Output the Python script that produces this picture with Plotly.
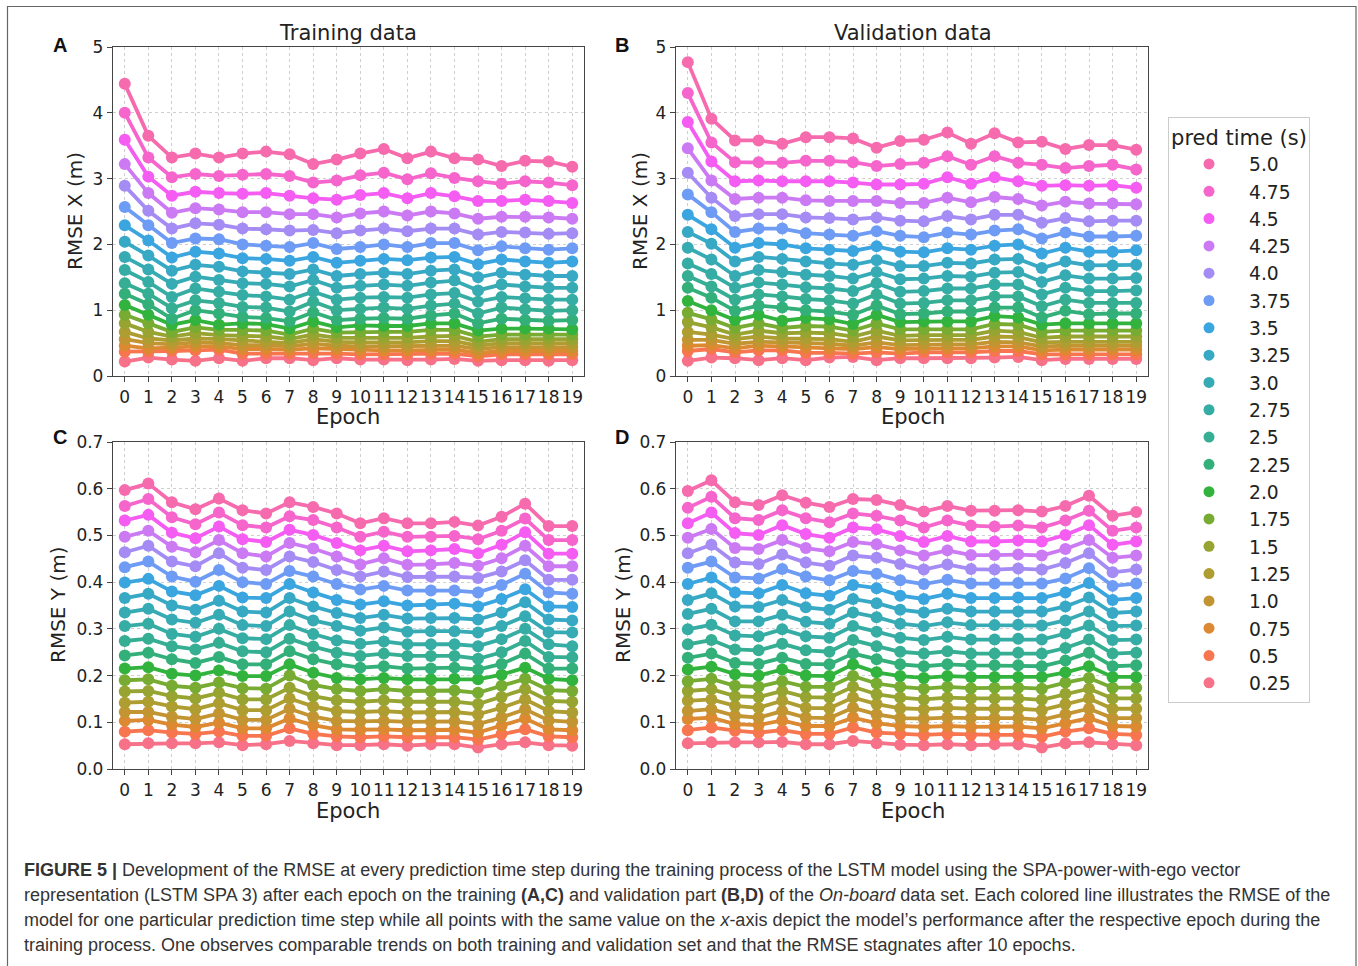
import math
import numpy as np
import plotly.graph_objects as go

W, H = 1358, 966

epochs = list(range(20))
pred_times = ["0.25", "0.5", "0.75", "1.0", "1.25", "1.5", "1.75", "2.0", "2.25", "2.5",
              "2.75", "3.0", "3.25", "3.5", "3.75", "4.0", "4.25", "4.5", "4.75", "5.0"]

# ---------------- Panel A: training data, RMSE X (m) ----------------
tx_0_25 = [0.22, 0.28, 0.25, 0.23, 0.27, 0.23, 0.27, 0.27, 0.24, 0.27, 0.25, 0.25, 0.24, 0.25, 0.26, 0.23, 0.24, 0.24, 0.23, 0.24]
tx_0_50 = [0.37, 0.37, 0.38, 0.39, 0.40, 0.34, 0.34, 0.34, 0.35, 0.34, 0.33, 0.33, 0.33, 0.34, 0.34, 0.30, 0.33, 0.33, 0.33, 0.33]
tx_0_75 = [0.46, 0.42, 0.43, 0.45, 0.45, 0.41, 0.41, 0.40, 0.42, 0.41, 0.39, 0.39, 0.39, 0.40, 0.40, 0.35, 0.38, 0.38, 0.38, 0.38]
tx_1_00 = [0.56, 0.50, 0.48, 0.51, 0.50, 0.47, 0.47, 0.45, 0.49, 0.46, 0.45, 0.45, 0.45, 0.46, 0.46, 0.41, 0.44, 0.44, 0.44, 0.44]
tx_1_25 = [0.67, 0.57, 0.54, 0.57, 0.56, 0.54, 0.53, 0.50, 0.56, 0.52, 0.51, 0.51, 0.51, 0.53, 0.53, 0.46, 0.50, 0.50, 0.50, 0.50]
tx_1_50 = [0.80, 0.67, 0.60, 0.65, 0.62, 0.61, 0.60, 0.56, 0.63, 0.58, 0.58, 0.58, 0.58, 0.60, 0.61, 0.52, 0.56, 0.56, 0.56, 0.56]
tx_1_75 = [0.93, 0.80, 0.67, 0.74, 0.70, 0.70, 0.69, 0.63, 0.72, 0.66, 0.67, 0.67, 0.67, 0.70, 0.70, 0.60, 0.63, 0.63, 0.63, 0.63]
tx_2_00 = [1.08, 0.93, 0.78, 0.85, 0.78, 0.80, 0.79, 0.72, 0.83, 0.74, 0.77, 0.76, 0.76, 0.80, 0.80, 0.69, 0.72, 0.72, 0.72, 0.71]
tx_2_25 = [1.25, 1.09, 0.87, 1.00, 0.95, 0.90, 0.88, 0.83, 0.97, 0.85, 0.87, 0.88, 0.87, 0.92, 0.95, 0.80, 0.87, 0.85, 0.84, 0.85]
tx_2_50 = [1.41, 1.25, 1.03, 1.15, 1.11, 1.05, 1.04, 0.98, 1.13, 1.00, 1.02, 1.04, 1.02, 1.07, 1.10, 0.95, 1.04, 1.01, 0.99, 1.00]
tx_2_75 = [1.61, 1.43, 1.20, 1.33, 1.28, 1.23, 1.21, 1.16, 1.28, 1.16, 1.19, 1.20, 1.19, 1.24, 1.26, 1.13, 1.20, 1.18, 1.16, 1.16]
tx_3_00 = [1.81, 1.62, 1.40, 1.51, 1.46, 1.41, 1.40, 1.36, 1.46, 1.34, 1.37, 1.39, 1.37, 1.42, 1.45, 1.30, 1.39, 1.36, 1.34, 1.34]
tx_3_25 = [2.04, 1.83, 1.60, 1.69, 1.66, 1.59, 1.57, 1.55, 1.62, 1.52, 1.55, 1.57, 1.55, 1.60, 1.62, 1.50, 1.57, 1.54, 1.52, 1.52]
tx_3_50 = [2.29, 2.06, 1.80, 1.89, 1.86, 1.79, 1.78, 1.75, 1.81, 1.72, 1.75, 1.78, 1.76, 1.80, 1.81, 1.70, 1.77, 1.74, 1.72, 1.74]
tx_3_75 = [2.57, 2.29, 2.02, 2.09, 2.08, 2.00, 1.98, 1.96, 2.02, 1.93, 1.96, 2.00, 1.96, 2.02, 2.02, 1.91, 1.97, 1.94, 1.92, 1.94]
tx_4_00 = [2.89, 2.51, 2.24, 2.32, 2.30, 2.24, 2.23, 2.21, 2.22, 2.17, 2.21, 2.24, 2.20, 2.24, 2.24, 2.15, 2.19, 2.18, 2.16, 2.17]
tx_4_25 = [3.22, 2.78, 2.48, 2.55, 2.53, 2.49, 2.49, 2.46, 2.46, 2.41, 2.47, 2.50, 2.44, 2.50, 2.47, 2.39, 2.42, 2.42, 2.41, 2.39]
tx_4_50 = [3.59, 3.03, 2.74, 2.80, 2.78, 2.77, 2.78, 2.74, 2.70, 2.68, 2.75, 2.78, 2.70, 2.78, 2.73, 2.66, 2.66, 2.68, 2.66, 2.63]
tx_4_75 = [4.00, 3.32, 3.02, 3.07, 3.04, 3.06, 3.07, 3.04, 2.94, 2.97, 3.05, 3.09, 2.99, 3.08, 3.01, 2.96, 2.92, 2.96, 2.94, 2.90]
tx_5_00 = [4.44, 3.65, 3.32, 3.38, 3.32, 3.38, 3.41, 3.37, 3.22, 3.29, 3.38, 3.45, 3.31, 3.41, 3.31, 3.29, 3.19, 3.27, 3.26, 3.18]

# ---------------- Panel B: validation data, RMSE X (m) ----------------
vx_0_25 = [0.23, 0.28, 0.27, 0.24, 0.27, 0.24, 0.28, 0.29, 0.24, 0.27, 0.27, 0.27, 0.27, 0.28, 0.29, 0.24, 0.26, 0.26, 0.26, 0.26]
vx_0_50 = [0.38, 0.41, 0.36, 0.39, 0.39, 0.35, 0.35, 0.34, 0.36, 0.34, 0.36, 0.36, 0.36, 0.38, 0.38, 0.33, 0.33, 0.33, 0.33, 0.33]
vx_0_75 = [0.46, 0.47, 0.42, 0.46, 0.45, 0.43, 0.42, 0.41, 0.44, 0.41, 0.42, 0.42, 0.42, 0.45, 0.45, 0.39, 0.40, 0.40, 0.40, 0.40]
vx_1_00 = [0.55, 0.55, 0.49, 0.52, 0.51, 0.50, 0.49, 0.46, 0.51, 0.47, 0.48, 0.48, 0.48, 0.52, 0.51, 0.45, 0.46, 0.46, 0.46, 0.46]
vx_1_25 = [0.67, 0.63, 0.56, 0.60, 0.57, 0.57, 0.56, 0.52, 0.60, 0.54, 0.55, 0.55, 0.55, 0.60, 0.59, 0.51, 0.52, 0.52, 0.52, 0.52]
vx_1_50 = [0.82, 0.74, 0.63, 0.69, 0.65, 0.66, 0.65, 0.60, 0.69, 0.61, 0.62, 0.62, 0.62, 0.69, 0.67, 0.58, 0.60, 0.60, 0.60, 0.60]
vx_1_75 = [0.96, 0.86, 0.73, 0.80, 0.73, 0.76, 0.75, 0.69, 0.80, 0.71, 0.71, 0.71, 0.71, 0.79, 0.78, 0.67, 0.69, 0.69, 0.69, 0.69]
vx_2_00 = [1.14, 1.00, 0.85, 0.93, 0.84, 0.88, 0.86, 0.79, 0.93, 0.82, 0.83, 0.83, 0.83, 0.91, 0.89, 0.78, 0.80, 0.80, 0.80, 0.80]
vx_2_25 = [1.34, 1.19, 0.99, 1.07, 1.04, 1.00, 0.98, 0.93, 1.07, 0.94, 0.95, 0.98, 0.98, 1.04, 1.04, 0.89, 0.99, 0.94, 0.95, 0.95]
vx_2_50 = [1.52, 1.36, 1.16, 1.24, 1.21, 1.17, 1.15, 1.10, 1.24, 1.10, 1.11, 1.15, 1.15, 1.21, 1.21, 1.06, 1.16, 1.11, 1.11, 1.11]
vx_2_75 = [1.71, 1.55, 1.34, 1.42, 1.39, 1.35, 1.33, 1.29, 1.41, 1.28, 1.29, 1.33, 1.33, 1.39, 1.39, 1.24, 1.34, 1.29, 1.29, 1.30]
vx_3_00 = [1.95, 1.77, 1.52, 1.61, 1.58, 1.54, 1.52, 1.48, 1.58, 1.47, 1.48, 1.52, 1.51, 1.57, 1.58, 1.43, 1.53, 1.48, 1.48, 1.49]
vx_3_25 = [2.19, 2.01, 1.74, 1.81, 1.78, 1.74, 1.71, 1.69, 1.76, 1.67, 1.67, 1.72, 1.71, 1.77, 1.78, 1.64, 1.74, 1.68, 1.68, 1.69]
vx_3_50 = [2.45, 2.23, 1.95, 2.02, 2.00, 1.94, 1.92, 1.90, 1.97, 1.89, 1.88, 1.94, 1.92, 1.98, 2.00, 1.86, 1.95, 1.89, 1.89, 1.91]
vx_3_75 = [2.76, 2.49, 2.19, 2.24, 2.24, 2.17, 2.15, 2.13, 2.20, 2.13, 2.11, 2.18, 2.15, 2.21, 2.23, 2.09, 2.18, 2.12, 2.12, 2.13]
vx_4_00 = [3.09, 2.71, 2.43, 2.46, 2.46, 2.41, 2.40, 2.38, 2.41, 2.36, 2.35, 2.43, 2.38, 2.45, 2.45, 2.33, 2.40, 2.35, 2.36, 2.36]
vx_4_25 = [3.46, 2.97, 2.69, 2.71, 2.71, 2.67, 2.66, 2.66, 2.66, 2.63, 2.63, 2.71, 2.64, 2.72, 2.69, 2.59, 2.65, 2.62, 2.62, 2.61]
vx_4_50 = [3.86, 3.26, 2.96, 2.97, 2.96, 2.96, 2.96, 2.94, 2.91, 2.91, 2.92, 3.02, 2.92, 3.02, 2.96, 2.89, 2.90, 2.89, 2.90, 2.86]
vx_4_75 = [4.30, 3.55, 3.25, 3.25, 3.24, 3.27, 3.27, 3.25, 3.19, 3.22, 3.24, 3.34, 3.21, 3.34, 3.24, 3.21, 3.16, 3.19, 3.21, 3.14]
vx_5_00 = [4.77, 3.91, 3.58, 3.58, 3.53, 3.63, 3.63, 3.61, 3.47, 3.57, 3.59, 3.70, 3.53, 3.69, 3.55, 3.56, 3.45, 3.51, 3.51, 3.44]

# ---------------- Panel C: training data, RMSE Y (m) ----------------
ty_0_25 = [0.053, 0.055, 0.055, 0.055, 0.057, 0.051, 0.053, 0.060, 0.055, 0.051, 0.051, 0.053, 0.050, 0.053, 0.053, 0.046, 0.053, 0.057, 0.051, 0.050]
ty_0_50 = [0.080, 0.083, 0.078, 0.075, 0.080, 0.071, 0.071, 0.087, 0.075, 0.070, 0.068, 0.070, 0.068, 0.068, 0.068, 0.063, 0.075, 0.085, 0.070, 0.068]
ty_0_75 = [0.103, 0.105, 0.095, 0.090, 0.099, 0.087, 0.087, 0.108, 0.094, 0.085, 0.084, 0.085, 0.083, 0.083, 0.084, 0.078, 0.092, 0.108, 0.085, 0.083]
ty_1_00 = [0.122, 0.122, 0.112, 0.107, 0.119, 0.105, 0.105, 0.129, 0.112, 0.103, 0.102, 0.103, 0.101, 0.101, 0.102, 0.096, 0.110, 0.128, 0.104, 0.101]
ty_1_25 = [0.142, 0.144, 0.134, 0.128, 0.141, 0.126, 0.126, 0.151, 0.134, 0.124, 0.122, 0.124, 0.121, 0.121, 0.122, 0.117, 0.131, 0.149, 0.124, 0.121]
ty_1_50 = [0.166, 0.167, 0.156, 0.151, 0.163, 0.149, 0.149, 0.174, 0.156, 0.147, 0.144, 0.147, 0.144, 0.144, 0.144, 0.139, 0.154, 0.171, 0.146, 0.144]
ty_1_75 = [0.190, 0.192, 0.178, 0.174, 0.185, 0.173, 0.172, 0.200, 0.180, 0.171, 0.167, 0.171, 0.167, 0.167, 0.168, 0.163, 0.178, 0.193, 0.169, 0.167]
ty_2_00 = [0.215, 0.218, 0.204, 0.200, 0.211, 0.199, 0.199, 0.224, 0.206, 0.195, 0.192, 0.195, 0.192, 0.192, 0.193, 0.192, 0.202, 0.217, 0.193, 0.190]
ty_2_25 = [0.243, 0.249, 0.235, 0.227, 0.240, 0.224, 0.224, 0.252, 0.235, 0.224, 0.217, 0.220, 0.215, 0.215, 0.217, 0.213, 0.225, 0.247, 0.215, 0.215]
ty_2_50 = [0.274, 0.279, 0.263, 0.256, 0.270, 0.252, 0.250, 0.279, 0.262, 0.249, 0.242, 0.247, 0.242, 0.242, 0.242, 0.236, 0.250, 0.274, 0.240, 0.239]
ty_2_75 = [0.306, 0.311, 0.289, 0.283, 0.300, 0.280, 0.278, 0.308, 0.289, 0.275, 0.268, 0.273, 0.267, 0.267, 0.267, 0.263, 0.278, 0.300, 0.267, 0.263]
ty_3_00 = [0.335, 0.343, 0.320, 0.313, 0.330, 0.308, 0.306, 0.337, 0.318, 0.306, 0.296, 0.303, 0.294, 0.295, 0.295, 0.292, 0.306, 0.327, 0.293, 0.292]
ty_3_25 = [0.366, 0.375, 0.350, 0.341, 0.360, 0.337, 0.335, 0.366, 0.348, 0.334, 0.323, 0.330, 0.322, 0.323, 0.323, 0.320, 0.335, 0.357, 0.320, 0.318]
ty_3_50 = [0.399, 0.407, 0.380, 0.372, 0.392, 0.367, 0.366, 0.396, 0.378, 0.362, 0.352, 0.359, 0.350, 0.352, 0.354, 0.348, 0.364, 0.385, 0.348, 0.347]
ty_3_75 = [0.432, 0.444, 0.412, 0.401, 0.426, 0.400, 0.396, 0.424, 0.412, 0.396, 0.384, 0.392, 0.382, 0.382, 0.382, 0.378, 0.394, 0.418, 0.378, 0.375]
ty_4_00 = [0.464, 0.478, 0.444, 0.434, 0.462, 0.431, 0.426, 0.455, 0.443, 0.426, 0.412, 0.423, 0.411, 0.412, 0.412, 0.409, 0.423, 0.447, 0.405, 0.405]
ty_4_25 = [0.497, 0.510, 0.476, 0.464, 0.490, 0.462, 0.455, 0.484, 0.472, 0.455, 0.438, 0.451, 0.437, 0.438, 0.441, 0.435, 0.451, 0.478, 0.434, 0.434]
ty_4_50 = [0.532, 0.544, 0.506, 0.494, 0.519, 0.492, 0.486, 0.512, 0.501, 0.484, 0.468, 0.478, 0.466, 0.468, 0.471, 0.462, 0.480, 0.507, 0.461, 0.461]
ty_4_75 = [0.563, 0.578, 0.539, 0.524, 0.549, 0.522, 0.517, 0.541, 0.533, 0.517, 0.497, 0.508, 0.497, 0.497, 0.499, 0.492, 0.510, 0.536, 0.490, 0.490]
ty_5_00 = [0.597, 0.611, 0.571, 0.556, 0.579, 0.554, 0.547, 0.571, 0.561, 0.547, 0.526, 0.537, 0.526, 0.526, 0.529, 0.521, 0.540, 0.568, 0.520, 0.520]

# ---------------- Panel D: validation data, RMSE Y (m) ----------------
vy_0_25 = [0.055, 0.057, 0.057, 0.057, 0.058, 0.053, 0.053, 0.060, 0.055, 0.052, 0.051, 0.053, 0.051, 0.053, 0.053, 0.046, 0.055, 0.057, 0.053, 0.051]
vy_0_50 = [0.083, 0.089, 0.082, 0.078, 0.083, 0.075, 0.075, 0.089, 0.078, 0.075, 0.073, 0.075, 0.073, 0.073, 0.073, 0.069, 0.080, 0.087, 0.075, 0.073]
vy_0_75 = [0.107, 0.110, 0.096, 0.094, 0.104, 0.092, 0.092, 0.110, 0.098, 0.092, 0.090, 0.092, 0.090, 0.090, 0.091, 0.087, 0.098, 0.109, 0.092, 0.091]
vy_1_00 = [0.124, 0.128, 0.114, 0.110, 0.124, 0.110, 0.109, 0.131, 0.117, 0.109, 0.108, 0.110, 0.109, 0.109, 0.109, 0.105, 0.117, 0.129, 0.109, 0.109]
vy_1_25 = [0.146, 0.149, 0.135, 0.131, 0.146, 0.131, 0.130, 0.153, 0.139, 0.130, 0.128, 0.131, 0.129, 0.129, 0.129, 0.126, 0.139, 0.151, 0.129, 0.129]
vy_1_50 = [0.167, 0.171, 0.156, 0.154, 0.167, 0.154, 0.153, 0.176, 0.160, 0.153, 0.149, 0.153, 0.151, 0.151, 0.151, 0.148, 0.161, 0.172, 0.151, 0.151]
vy_1_75 = [0.188, 0.193, 0.178, 0.176, 0.188, 0.176, 0.176, 0.199, 0.183, 0.176, 0.172, 0.176, 0.173, 0.174, 0.174, 0.172, 0.185, 0.195, 0.174, 0.174]
vy_2_00 = [0.213, 0.219, 0.203, 0.200, 0.213, 0.200, 0.199, 0.224, 0.207, 0.199, 0.195, 0.199, 0.197, 0.197, 0.197, 0.197, 0.207, 0.220, 0.197, 0.197]
vy_2_25 = [0.238, 0.247, 0.227, 0.225, 0.238, 0.225, 0.224, 0.247, 0.235, 0.224, 0.220, 0.224, 0.222, 0.222, 0.222, 0.220, 0.232, 0.249, 0.220, 0.222]
vy_2_50 = [0.267, 0.276, 0.256, 0.254, 0.268, 0.254, 0.251, 0.276, 0.263, 0.251, 0.247, 0.252, 0.247, 0.247, 0.249, 0.247, 0.259, 0.277, 0.247, 0.249]
vy_2_75 = [0.299, 0.309, 0.286, 0.284, 0.299, 0.284, 0.281, 0.306, 0.294, 0.281, 0.276, 0.283, 0.277, 0.277, 0.279, 0.277, 0.290, 0.307, 0.276, 0.277]
vy_3_00 = [0.332, 0.343, 0.316, 0.316, 0.330, 0.315, 0.311, 0.335, 0.325, 0.311, 0.306, 0.314, 0.308, 0.308, 0.309, 0.307, 0.318, 0.337, 0.306, 0.307]
vy_3_25 = [0.362, 0.376, 0.348, 0.347, 0.362, 0.346, 0.341, 0.364, 0.355, 0.341, 0.335, 0.343, 0.337, 0.337, 0.337, 0.337, 0.348, 0.367, 0.334, 0.337]
vy_3_50 = [0.396, 0.410, 0.378, 0.376, 0.394, 0.376, 0.371, 0.394, 0.387, 0.371, 0.364, 0.375, 0.366, 0.366, 0.367, 0.366, 0.378, 0.398, 0.362, 0.366]
vy_3_75 = [0.431, 0.444, 0.410, 0.408, 0.428, 0.412, 0.404, 0.424, 0.418, 0.404, 0.396, 0.405, 0.397, 0.397, 0.398, 0.397, 0.408, 0.430, 0.392, 0.397]
vy_4_00 = [0.462, 0.480, 0.442, 0.439, 0.459, 0.442, 0.435, 0.457, 0.452, 0.439, 0.427, 0.438, 0.428, 0.427, 0.429, 0.427, 0.441, 0.462, 0.421, 0.427]
vy_4_25 = [0.495, 0.514, 0.473, 0.471, 0.490, 0.473, 0.466, 0.486, 0.481, 0.468, 0.457, 0.468, 0.458, 0.458, 0.459, 0.457, 0.471, 0.490, 0.452, 0.457]
vy_4_50 = [0.526, 0.549, 0.505, 0.501, 0.522, 0.503, 0.495, 0.517, 0.513, 0.499, 0.486, 0.499, 0.487, 0.487, 0.489, 0.487, 0.501, 0.522, 0.480, 0.487]
vy_4_75 = [0.559, 0.583, 0.537, 0.533, 0.554, 0.537, 0.528, 0.547, 0.542, 0.532, 0.517, 0.532, 0.521, 0.519, 0.521, 0.517, 0.532, 0.553, 0.510, 0.517]
vy_5_00 = [0.595, 0.618, 0.571, 0.565, 0.586, 0.570, 0.561, 0.578, 0.576, 0.565, 0.551, 0.563, 0.553, 0.553, 0.554, 0.551, 0.563, 0.585, 0.542, 0.550]

train_x = [tx_0_25, tx_0_50, tx_0_75, tx_1_00, tx_1_25, tx_1_50, tx_1_75, tx_2_00, tx_2_25, tx_2_50,
           tx_2_75, tx_3_00, tx_3_25, tx_3_50, tx_3_75, tx_4_00, tx_4_25, tx_4_50, tx_4_75, tx_5_00]
val_x = [vx_0_25, vx_0_50, vx_0_75, vx_1_00, vx_1_25, vx_1_50, vx_1_75, vx_2_00, vx_2_25, vx_2_50,
         vx_2_75, vx_3_00, vx_3_25, vx_3_50, vx_3_75, vx_4_00, vx_4_25, vx_4_50, vx_4_75, vx_5_00]
train_y = [ty_0_25, ty_0_50, ty_0_75, ty_1_00, ty_1_25, ty_1_50, ty_1_75, ty_2_00, ty_2_25, ty_2_50,
           ty_2_75, ty_3_00, ty_3_25, ty_3_50, ty_3_75, ty_4_00, ty_4_25, ty_4_50, ty_4_75, ty_5_00]
val_y = [vy_0_25, vy_0_50, vy_0_75, vy_1_00, vy_1_25, vy_1_50, vy_1_75, vy_2_00, vy_2_25, vy_2_50,
         vy_2_75, vy_3_00, vy_3_25, vy_3_50, vy_3_75, vy_4_00, vy_4_25, vy_4_50, vy_4_75, vy_5_00]

# ---------------- seaborn "husl" palette (20 colours) ----------------
_M = [[3.2406, -1.5372, -0.4986], [-0.9689, 1.8758, 0.0415], [0.0557, -0.2040, 1.0570]]


def _max_chroma(L, Hh):
    hrad = math.radians(Hh)
    sinH, cosH = math.sin(hrad), math.cos(hrad)
    sub1 = (L + 16) ** 3 / 1560896.0
    sub2 = sub1 if sub1 > 0.008856 else L / 903.3
    res = float("inf")
    for m1, m2, m3 in _M:
        top = (0.99915 * m1 + 1.05122 * m2 + 1.14460 * m3) * sub2
        rb = 0.86330 * m3 - 0.17266 * m2
        lb = 0.12949 * m3 - 0.38848 * m1
        bottom = (rb * sinH + lb * cosH) * sub2
        for t in (0.0, 1.0):
            C = L * (top - 1.05122 * t) / (bottom + 0.17266 * sinH * t)
            if 0.0 < C < res:
                res = C
    return res


def _husl_to_hex(h, s, l):
    C = _max_chroma(l, h) / 100.0 * s
    hr = math.radians(h)
    U, V = math.cos(hr) * C, math.sin(hr) * C
    t = (l + 16.0) / 116.0
    Y = t ** 3 if t ** 3 > 0.008856 else (116.0 * t - 16.0) / 903.3
    vu = U / (13.0 * l) + 0.19784
    vv = V / (13.0 * l) + 0.46834
    X = -(9.0 * Y * vu) / ((vu - 4.0) * vv - vu * vv)
    Z = (9.0 * Y - 15.0 * vv * Y - vv * X) / (3.0 * vv)
    out = []
    for row in _M:
        c = row[0] * X + row[1] * Y + row[2] * Z
        c = 12.92 * c if c <= 0.0031308 else 1.055 * c ** (1 / 2.4) - 0.055
        out.append(int(round(min(max(c, 0.0), 1.0) * 255)))
    return "#%02x%02x%02x" % tuple(out)


hues = (np.linspace(0, 1, 21)[:-1] + 0.01) % 1 * 359
colors = [_husl_to_hex(hh, 0.9 * 99, 0.65 * 99) for hh in hues]

# ---------------- figure ----------------
def px(x):
    return x / W


def py(y):
    return 1 - y / H


FONT = "DejaVu Sans"
AXC = "#444444"

fig = go.Figure()

panels = [("x", "y", train_x), ("x2", "y2", val_x), ("x3", "y3", train_y), ("x4", "y4", val_y)]
for xa, ya, rows in panels:
    for i, vals in enumerate(rows):
        fig.add_trace(go.Scatter(
            x=epochs, y=vals, xaxis=xa, yaxis=ya, mode="lines+markers",
            name=pred_times[i], showlegend=False,
            line=dict(color=colors[i], width=3.8),
            marker=dict(color=colors[i], size=12),
        ))

# legend-only entries (dots), 5.0 at the top
for i in reversed(range(len(pred_times))):
    fig.add_trace(go.Scatter(
        x=[None], y=[None], mode="markers", name=pred_times[i],
        marker=dict(color=colors[i], size=11), showlegend=True,
    ))

xdom_l = [px(113), px(584)]
xdom_r = [px(676), px(1148)]
ydom_t = [py(376), py(47)]
ydom_b = [py(769), py(442)]

common_x = dict(range=[-0.5, 19.5], tickmode="array", tickvals=epochs,
                ticktext=[str(e) for e in epochs], tickangle=0, showgrid=True, gridcolor="#cfcfcf",
                griddash="dot", gridwidth=1, showline=True, linecolor=AXC, linewidth=1.3,
                mirror=True, ticks="outside", ticklen=5, tickcolor=AXC, zeroline=False,
                tickfont=dict(family=FONT, size=17, color="#222"), automargin=False)
common_y = dict(showgrid=True, gridcolor="#cfcfcf", griddash="dot", gridwidth=1,
                showline=True, linecolor=AXC, linewidth=1.3, mirror=True, ticks="outside",
                ticklen=5, tickcolor=AXC, zeroline=False,
                tickfont=dict(family=FONT, size=17, color="#222"), automargin=False)

fig.update_layout(
    xaxis=dict(domain=xdom_l, anchor="y", **common_x),
    xaxis2=dict(domain=xdom_r, anchor="y2", **common_x),
    xaxis3=dict(domain=xdom_l, anchor="y3", **common_x),
    xaxis4=dict(domain=xdom_r, anchor="y4", **common_x),
    yaxis=dict(domain=ydom_t, anchor="x", range=[0, 5], dtick=1, tick0=0, **common_y),
    yaxis2=dict(domain=ydom_t, anchor="x2", range=[0, 5], dtick=1, tick0=0, **common_y),
    yaxis3=dict(domain=ydom_b, anchor="x3", range=[0, 0.7], dtick=0.1, tick0=0,
                tickformat=".1f", **common_y),
    yaxis4=dict(domain=ydom_b, anchor="x4", range=[0, 0.7], dtick=0.1, tick0=0,
                tickformat=".1f", **common_y),
)

ann = []
# panel titles
ann.append(dict(text="Training data", x=px(348), y=py(33), font=dict(family=FONT, size=21, color="#222")))
ann.append(dict(text="Validation data", x=px(913), y=py(33), font=dict(family=FONT, size=21, color="#222")))
# panel letters
for letter, lx, ly in [("A", 60, 45), ("B", 622, 45), ("C", 60, 437), ("D", 622, 437)]:
    ann.append(dict(text="<b>%s</b>" % letter, x=px(lx), y=py(ly),
                    font=dict(family="Liberation Sans, Arial", size=20, color="#111")))
# axis titles
for ex, ey in [(348, 417), (913, 417), (348, 811), (913, 811)]:
    ann.append(dict(text="Epoch", x=px(ex), y=py(ey), font=dict(family=FONT, size=21, color="#222")))
for t, ex, ey in [("RMSE X (m)", 75, 211), ("RMSE X (m)", 640, 211),
                  ("RMSE Y (m)", 58, 605), ("RMSE Y (m)", 623, 605)]:
    ann.append(dict(text=t, x=px(ex), y=py(ey), textangle=-90,
                    font=dict(family=FONT, size=20, color="#222")))
# caption
cap_lines = [
    "<b>FIGURE 5 |</b> Development of the RMSE at every prediction time step during the training process of the LSTM model using the SPA-power-with-ego vector",
    "representation (LSTM SPA 3) after each epoch on the training <b>(A,C)</b> and validation part <b>(B,D)</b> of the <i>On-board</i> data set. Each colored line illustrates the RMSE of the",
    "model for one particular prediction time step while all points with the same value on the <i>x</i>-axis depict the model\u2019s performance after the respective epoch during the",
    "training process. One observes comparable trends on both training and validation set and that the RMSE stagnates after 10 epochs.",
]
for k, line in enumerate(cap_lines):
    ann.append(dict(text=line, x=px(22), y=py(870 + 25 * k), xanchor="left",
                    font=dict(family="Liberation Sans, Arial", size=18, color="#333")))

for a in ann:
    a.setdefault("xref", "paper")
    a.setdefault("yref", "paper")
    a.setdefault("showarrow", False)
    a.setdefault("xanchor", "center")
    a.setdefault("yanchor", "middle")

fig.update_layout(
    annotations=ann,
    width=W, height=H,
    margin=dict(l=0, r=0, t=0, b=0),
    paper_bgcolor="white", plot_bgcolor="white",
    showlegend=True,
    legend=dict(
        x=px(1168), y=py(117), xanchor="left", yanchor="top",
        bgcolor="white", bordercolor="#cccccc", borderwidth=1,
        font=dict(family=FONT, size=18.7, color="#222"),
        title=dict(text="pred time (s)", font=dict(family=FONT, size=21, color="#222"), side="top center"),
        traceorder="normal", itemwidth=70,
    ),
    shapes=[dict(type="rect", xref="paper", yref="paper", x0=px(7.5), x1=px(1356),
                 y0=-0.05, y1=py(6.5), line=dict(color="#666", width=1.2), layer="below")],
)

fig.write_html("out.html")
